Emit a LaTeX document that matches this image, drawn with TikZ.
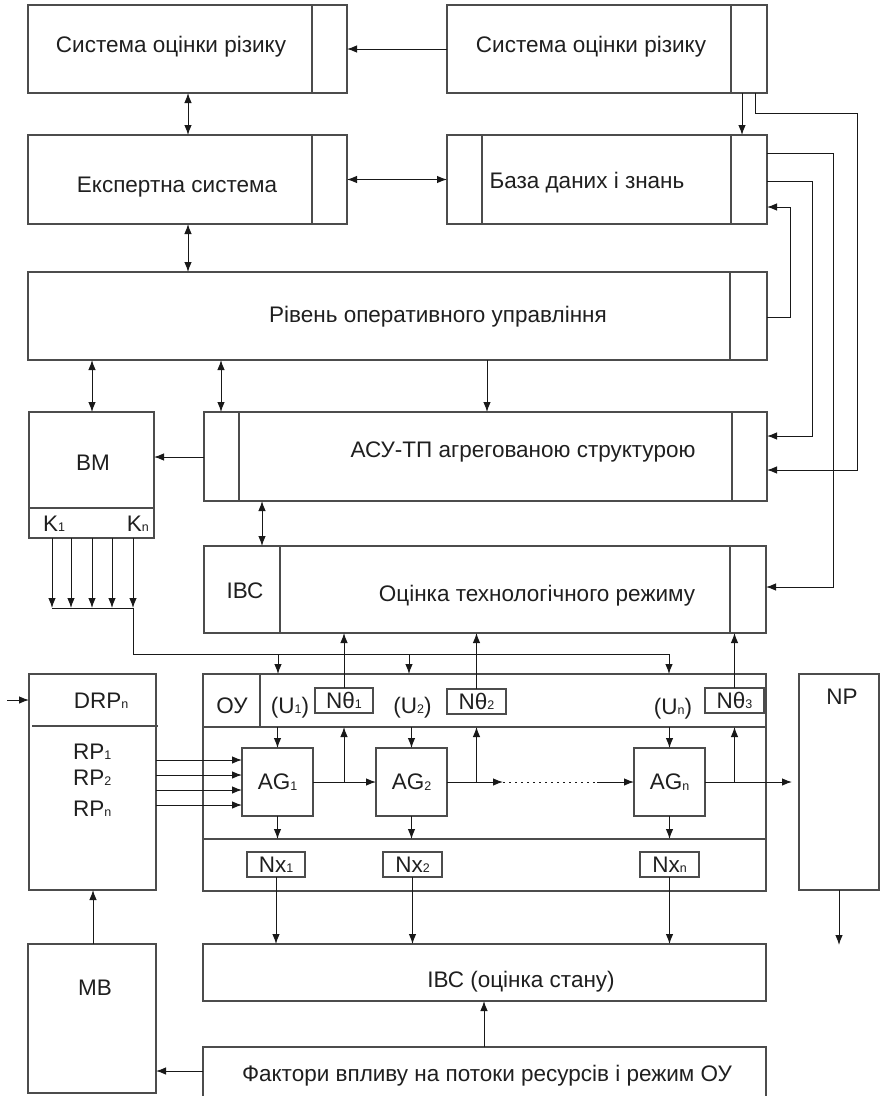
\documentclass[tikz,border=0pt]{standalone}
\usepackage{fontspec}
\setmainfont{Liberation Sans}
\usetikzlibrary{arrows.meta,calc}
\newcommand{\sbs}[1]{\raisebox{-0.5pt}{\fontsize{12.5}{12.5}\selectfont #1}}
\begin{document}
\begin{tikzpicture}[x=1pt,y=-1pt,
  box/.style={draw=black!70, line width=1.1pt, inner sep=0pt, outer sep=0pt},
  dv/.style={draw=black!70, line width=1.1pt},
  ln/.style={draw=black!90, line width=1pt},
  arr/.style={ln, -{Latex[length=10pt,width=7.5pt]}},
  dbl/.style={ln, {Latex[length=10pt,width=7.5pt]}-{Latex[length=10pt,width=7.5pt]}},
  txt/.style={font=\fontsize{22.5}{24}\selectfont, inner sep=0pt, text=black!88},
]
\path[use as bounding box, clip] (0,0) rectangle (881,1096);

% ---------- boxes ----------
\node[box, minimum width=319pt, minimum height=88pt] (sr1) at (187.5,49) {};
\node[box, minimum width=320pt, minimum height=88pt] (sr2) at (607,49) {};
\node[box, minimum width=319pt, minimum height=89pt] (es) at (187.5,179.5) {};
\node[box, minimum width=320pt, minimum height=89pt] (db) at (607,179.5) {};
\node[box, minimum width=739pt, minimum height=88pt] (riv) at (397.5,316) {};
\node[box, minimum width=125pt, minimum height=126pt] (vm) at (91.5,475) {};
\node[box, minimum width=563pt, minimum height=89pt] (acs) at (485.5,456.5) {};
\node[box, minimum width=562pt, minimum height=87pt] (ots) at (485,589.5) {};
\node[box, minimum width=127pt, minimum height=216pt] (drp) at (92.5,782) {};
\node[box, minimum width=563pt, minimum height=217pt] (oy) at (484.5,782.5) {};
\node[box, minimum width=80pt, minimum height=216pt] (np) at (839,782) {};
\node[box, minimum width=58pt, minimum height=25pt] (nt1) at (344,700.5) {};
\node[box, minimum width=59pt, minimum height=25pt] (nt2) at (476.5,701.5) {};
\node[box, minimum width=59pt, minimum height=25pt] (nt3) at (734.5,700.5) {};
\node[box, minimum width=71pt, minimum height=68pt] (ag1) at (277.5,782) {};
\node[box, minimum width=71pt, minimum height=68pt] (ag2) at (411.5,782) {};
\node[box, minimum width=71pt, minimum height=68pt] (agn) at (669.5,782) {};
\node[box, minimum width=58pt, minimum height=25pt] (nx1) at (276,864.5) {};
\node[box, minimum width=59pt, minimum height=25pt] (nx2) at (412.5,864.5) {};
\node[box, minimum width=59pt, minimum height=25pt] (nxn) at (669.5,864.5) {};
\node[box, minimum width=563pt, minimum height=57pt] (ibc) at (484.5,972.5) {};
\node[box, minimum width=128pt, minimum height=149pt] (mb) at (92,1018.5) {};
\node[box, minimum width=563pt, minimum height=63pt] (fac) at (484.5,1078.5) {};

% ---------- dividers ----------
\draw[dv] (sr1.north -| 312,0) -- (sr1.south -| 312,0);
\draw[dv] (sr2.north -| 731,0) -- (sr2.south -| 731,0);
\draw[dv] (es.north -| 312,0) -- (es.south -| 312,0);
\draw[dv] (db.north -| 482,0) -- (db.south -| 482,0);
\draw[dv] (db.north -| 731,0) -- (db.south -| 731,0);
\draw[dv] (riv.north -| 730,0) -- (riv.south -| 730,0);
\draw[dv] (acs.north -| 239,0) -- (acs.south -| 239,0);
\draw[dv] (acs.north -| 732,0) -- (acs.south -| 732,0);
\draw[dv] (ots.north -| 280,0) -- (ots.south -| 280,0);
\draw[dv] (ots.north -| 730,0) -- (ots.south -| 730,0);
\draw[dv] (vm.west |- 0,508) -- (vm.east |- 0,508);
\draw[dv] (32,726) -- (158,726);
\draw[dv] (oy.west |- 0,727) -- (oy.east |- 0,727);
\draw[dv] (oy.west |- 0,839) -- (oy.east |- 0,839);
\draw[dv] (oy.north -| 260,0) -- (260,727);

% ---------- texts ----------
\node[txt, anchor=base] (t1) at (171,52) {Система оцінки різику};
\node[txt, anchor=base] (t2) at (591,52) {Система оцінки різику};
\node[txt, anchor=base] (t3) at (177,192) {Експертна система};
\node[txt, anchor=base] (t4) at (587,188) {База даних і знань};
\node[txt, anchor=base] (t5) at (438,322) {Рівень оперативного управління};
\node[txt, anchor=base] (t6) at (523,457) {АСУ-ТП агрегованою структурою};
\node[txt, anchor=base] (t7) at (245,598) {ІВС};
\node[txt, anchor=base] (t8) at (537,601) {Оцінка технологічного режиму};
\node[txt, anchor=base] (t9) at (93,470) {ВМ};
\node[txt, anchor=base west] (k1) at (43,531) {K\sbs{1}};
\node[txt, anchor=base east] (kn) at (149,531) {K\sbs{n}};
\node[txt, anchor=base] (drpt) at (101,708) {DRP\sbs{n}};
\node[txt, anchor=base west] (rp1) at (73,759) {RP\sbs{1}};
\node[txt, anchor=base west] (rp2) at (73,785) {RP\sbs{2}};
\node[txt, anchor=base west] (rpn) at (73,816) {RP\sbs{n}};
\node[txt, anchor=base] (oyt) at (232,713) {ОУ};
\node[txt, anchor=base] (u1) at (290,713) {(U\sbs{1})};
\node[txt, anchor=base] (u2) at (412.5,713) {(U\sbs{2})};
\node[txt, anchor=base] (un) at (673,714) {(U\sbs{n})};
\node[txt] at (nt1) {Nθ\sbs{1}};
\node[txt] at (nt2) {Nθ\sbs{2}};
\node[txt] at (nt3) {Nθ\sbs{3}};
\node[txt] at (ag1) {AG\sbs{1}};
\node[txt] at (ag2) {AG\sbs{2}};
\node[txt] at (agn) {AG\sbs{n}};
\node[txt] at (nx1) {Nx\sbs{1}};
\node[txt] at (nx2) {Nx\sbs{2}};
\node[txt] at (nxn) {Nx\sbs{n}};
\node[txt, anchor=base] (npt) at (842,704) {NP};
\node[txt, anchor=base] (mbt) at (95,995) {МВ};
\node[txt, anchor=base] (ibct) at (521,987) {ІВС (оцінка стану)};
\node[txt, anchor=base] (fact) at (487,1081) {Фактори впливу на потоки ресурсів і режим ОУ};

% ---------- connectors ----------
\draw[arr] (sr2.west) -- (sr1.east);
\draw[dbl] (sr1.south -| 188,0) -- (es.north -| 188,0);
\draw[dbl] (es.east) -- (db.west);
\draw[dbl] (es.south -| 188,0) -- (riv.north -| 188,0);
\draw[arr] (sr2.south -| 742,0) -- (db.north -| 742,0);
\draw[arr] (sr2.south -| 755,0) -- (755,113) -- (857,113) -- (857,470) -- (acs.east |- 0,470);
\draw[arr] (db.east |- 0,153) -- (833,153) -- (833,587) -- (ots.east |- 0,587);
\draw[arr] (db.east |- 0,181) -- (812,181) -- (812,436) -- (acs.east |- 0,436);
\draw[arr] (riv.east |- 0,317) -- (790,317) -- (790,207) -- (db.east |- 0,207);
\draw[dbl] (riv.south -| 92,0) -- (vm.north -| 92,0);
\draw[dbl] (riv.south -| 221,0) -- (acs.north -| 221,0);
\draw[arr] (riv.south -| 487,0) -- (acs.north -| 487,0);
\draw[arr] (acs.west |- 0,457) -- (vm.east |- 0,457);
\draw[dbl] (acs.south -| 262,0) -- (ots.north -| 262,0);

\foreach \x in {52,71,92,112,133} \draw[arr] (vm.south -| \x,0) -- (\x,608);
\coordinate (bus) at (133,654);
\draw[ln] (52,608) -- (133,608) -- (bus) -- (669,654);
\foreach \x in {278,409,669} \draw[arr] (\x,654) -- (oy.north -| \x,0);

\draw[arr] (nt1.north) -- (ots.south -| nt1.north);
\draw[arr] (nt2.north) -- (ots.south -| nt2.north);
\draw[arr] (nt3.north) -- (ots.south -| nt3.north);

\draw[arr] (ag1.north |- 0,727) -- (ag1.north);
\draw[arr] (ag2.north |- 0,727) -- (ag2.north);
\draw[arr] (agn.north |- 0,727) -- (agn.north);
\draw[arr] (ag1.south) -- (ag1.south |- 0,839);
\draw[arr] (ag2.south) -- (ag2.south |- 0,839);
\draw[arr] (agn.south) -- (agn.south |- 0,839);

\draw[arr] (ag1.east) -- (ag2.west);
\draw[arr] (ag1.east -| nt1.south) -- (nt1.south |- 0,727);
\coordinate (d1) at (503,782);
\coordinate (d2) at (597,782);
\draw[arr] (ag2.east) -- (d1);
\draw[ln, dash pattern=on 1.5pt off 4.5pt] (d1) -- (d2);
\draw[arr] (d2) -- (agn.west);
\draw[arr] (ag2.east -| nt2.south) -- (nt2.south |- 0,727);
\draw[arr, shorten >=7pt] (agn.east) -- (np.west |- agn.east);
\draw[arr] (agn.east -| nt3.south) -- (nt3.south |- 0,727);

\draw[arr] (nx1.south) -- (ibc.north -| nx1.south);
\draw[arr] (nx2.south) -- (ibc.north -| nx2.south);
\draw[arr] (nxn.south) -- (ibc.north -| nxn.south);

\coordinate (npo) at (839,945);
\draw[arr] (np.south) -- (npo);
\draw[arr] (mb.north -| 93,0) -- (drp.south -| 93,0);
\draw[arr] (fac.north -| 484,0) -- (ibc.south -| 484,0);
\draw[arr] (fac.west |- 0,1071) -- (mb.east |- 0,1071);
\coordinate (inl) at (7,700);
\draw[arr] (inl) -- (drp.west |- inl);
\foreach \y in {760,775,790,805} \draw[arr] (drp.east |- 0,\y) -- (ag1.west |- 0,\y);
\end{tikzpicture}
\end{document}
